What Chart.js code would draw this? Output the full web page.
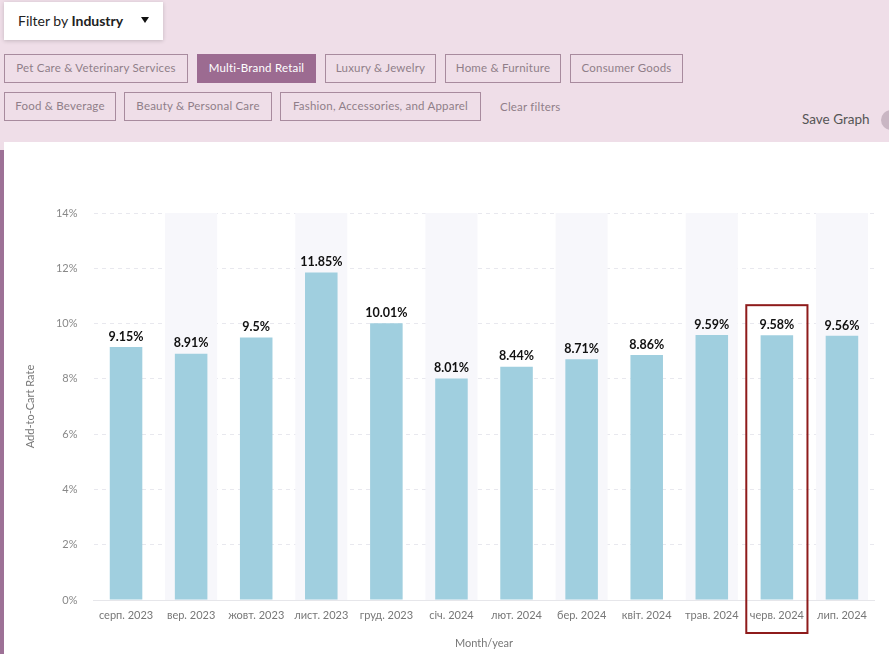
<!DOCTYPE html>
<html><head><meta charset="utf-8">
<script src="https://cdn.jsdelivr.net/npm/chart.js@4.4.1/dist/chart.umd.min.js"></script>
<style>
html,body{margin:0;padding:0;}
body{width:889px;height:654px;background:#efdee8;position:relative;overflow:hidden;font-family:Lato,"Noto Sans",sans-serif;}
.dd{position:absolute;left:4px;top:2px;width:159px;height:38px;background:#fff;box-shadow:0 1px 4px rgba(0,0,0,0.18);font-size:14px;color:#222;box-sizing:border-box;padding-left:14px;line-height:38px;}
.dd b{font-weight:700;}
.dd .arr{position:absolute;left:137px;top:15px;width:0;height:0;border-left:4px solid transparent;border-right:4px solid transparent;border-top:6px solid #111;}
.btn{position:absolute;height:29px;box-sizing:border-box;border:1.5px solid #a88b9e;color:#8f7e89;font-size:11.5px;line-height:26px;text-align:center;white-space:nowrap;letter-spacing:0.2px;}
.btn.on{background:#9c6b91;border-color:#9c6b91;color:#fff;}
.clr{position:absolute;left:500px;top:92px;line-height:29px;font-size:11.5px;color:#8f7e89;letter-spacing:0.2px;}
.save{position:absolute;left:802px;top:111px;font-size:13.5px;color:#555;}
.circ{position:absolute;left:881px;top:110px;width:20px;height:20px;border-radius:50%;background:#c9b6c3;}
.panel{position:absolute;left:4px;top:142px;width:885px;height:512px;background:#fff;}
.strip{position:absolute;left:0;top:150px;width:4px;height:504px;background:#9d7196;}
#c{position:absolute;left:4px;top:142px;}
</style></head><body>
<div class="dd">Filter by <b>Industry</b><span class="arr"></span></div>
<div class="btn" style="left:4px;top:54px;width:184px;">Pet Care &amp; Veterinary Services</div>
<div class="btn on" style="left:197px;top:54px;width:119px;">Multi-Brand Retail</div>
<div class="btn" style="left:325px;top:54px;width:111px;">Luxury &amp; Jewelry</div>
<div class="btn" style="left:445px;top:54px;width:116px;">Home &amp; Furniture</div>
<div class="btn" style="left:570px;top:54px;width:113px;">Consumer Goods</div>
<div class="btn" style="left:4px;top:92px;width:112px;">Food &amp; Beverage</div>
<div class="btn" style="left:124px;top:92px;width:148px;">Beauty &amp; Personal Care</div>
<div class="btn" style="left:280px;top:92px;width:201px;">Fashion, Accessories, and Apparel</div>
<div class="clr">Clear filters</div>
<div class="save">Save Graph</div>
<div class="circ"></div>
<div class="panel"></div>
<div class="strip"></div>
<canvas id="c" width="885" height="512"></canvas>
<script>
const categories = ["серп. 2023","вер. 2023","жовт. 2023","лист. 2023","груд. 2023","січ. 2024","лют. 2024","бер. 2024","квіт. 2024","трав. 2024","черв. 2024","лип. 2024"];
const addToCartRate = [9.15, 8.91, 9.5, 11.85, 10.01, 8.01, 8.44, 8.71, 8.86, 9.59, 9.58, 9.56];
const yTicks = [0, 2, 4, 6, 8, 10, 12, 14];
const highlightIndex = 10;

const FONT = 'Lato, "Noto Sans", sans-serif';

const bgPlugin = {
  id: 'bgcols',
  beforeDatasetsDraw(chart) {
    const {ctx, chartArea, scales} = chart;
    const x = scales.x;
    const w = (x.getPixelForValue(1) - x.getPixelForValue(0)) * 0.8;
    ctx.save();
    ctx.fillStyle = '#f7f7fb';
    for (let i = 1; i < categories.length; i += 2) {
      const cx = x.getPixelForValue(i);
      ctx.fillRect(cx - w / 2, chartArea.top, w, chartArea.bottom - chartArea.top);
    }
    ctx.restore();
  }
};

const labelPlugin = {
  id: 'vlabels',
  afterDatasetsDraw(chart) {
    const {ctx} = chart;
    const meta = chart.getDatasetMeta(0);
    ctx.save();
    ctx.font = 'bold 12.5px ' + FONT;
    ctx.fillStyle = '#111';
    ctx.textAlign = 'center';
    ctx.textBaseline = 'bottom';
    meta.data.forEach((bar, i) => {
      ctx.fillText(String(addToCartRate[i]) + '%', bar.x, bar.y - 4);
    });
    ctx.restore();
  },
  afterDraw(chart) {
    const {ctx, scales, chartArea} = chart;
    const x = scales.x, y = scales.y;
    const step = x.getPixelForValue(1) - x.getPixelForValue(0);
    const cx = x.getPixelForValue(highlightIndex);
    const w = step * 0.94;
    const top = y.getPixelForValue(addToCartRate[highlightIndex]) - 30;
    const bottom = chartArea.bottom + 33;
    ctx.save();
    ctx.strokeStyle = '#8e1b1b';
    ctx.lineWidth = 2;
    ctx.strokeRect(cx - w / 2, top, w, bottom - top);
    ctx.restore();
  }
};

new Chart(document.getElementById('c'), {
  type: 'bar',
  data: {
    labels: categories,
    datasets: [{
      data: addToCartRate,
      backgroundColor: '#a0cfdf',
      categoryPercentage: 1.0,
      barPercentage: 0.5
    }]
  },
  options: {
    responsive: false,
    animation: false,
    layout: {padding: {top: 71, right: 14.5, bottom: 0, left: 0}},
    plugins: {legend: {display: false}, tooltip: {enabled: false}},
    scales: {
      x: {
        grid: {display: false, drawTicks: false},
        border: {display: true, color: '#e6e6ea'},
        ticks: {color: '#777', font: {family: FONT, size: 11}, padding: 9, maxRotation: 0, autoSkip: false},
        title: {display: true, text: 'Month/year', color: '#777', font: {family: FONT, size: 11}, padding: {top: 12}},
        afterFit(s) { s.width = s.width; s.height = 54; }
      },
      y: {
        min: 0, max: 14,
        afterBuildTicks(s) { s.ticks = yTicks.map(v => ({value: v})); },
        grid: {color: '#e8e8ee', drawTicks: false, lineWidth: 1},
        border: {display: false, dash: [4, 4]},
        ticks: {color: '#888', font: {family: FONT, size: 11}, padding: 16, callback: v => v + '%'},
        title: {display: true, text: 'Add-to-Cart Rate', color: '#777', font: {family: FONT, size: 11}, padding: {top: 20, bottom: 0}},
        afterFit(s) { s.width = 89.5; }
      }
    }
  },
  plugins: [bgPlugin, labelPlugin]
});
</script>
</body></html>
